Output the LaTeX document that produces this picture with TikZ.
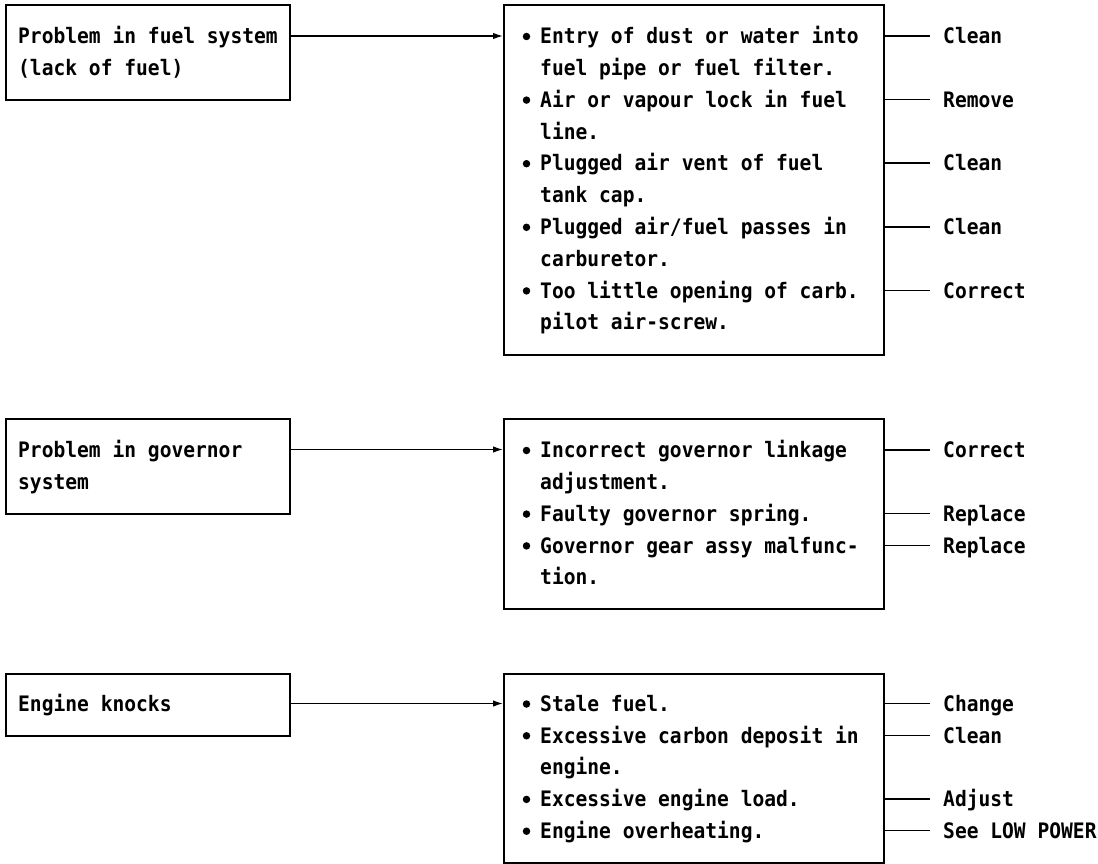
\documentclass[tikz,border=0pt]{standalone}
\usepackage{fontspec}
\newfontfamily\mono{DejaVu Sans Mono}[FakeStretch=0.92]
\usetikzlibrary{arrows.meta}
\begin{document}
\begin{tikzpicture}[x=1pt,y=-1pt,
  boxst/.style={draw, line width=1.8pt, inner sep=0pt, anchor=north west},
  txt/.style={font=\mono\bfseries\fontsize{21.3pt}{31.8pt}\selectfont, anchor=west, inner sep=0pt, text height=15.5pt, text depth=0pt},
  lab/.style={txt},
  bulst/.style={circle, fill, inner sep=0pt, minimum size=7.5pt},
  link/.style={line width=1.4pt},
  arr/.style={line width=1.4pt, -{Latex[length=10pt,width=6.5pt]}}]
\useasboundingbox (0,0) rectangle (1098,864);

% ---------- Section 1 ----------
\node[boxst, minimum width=284pt, minimum height=95pt] (b1) at (5,4) {};
\node[boxst, minimum width=380pt, minimum height=350pt] (b2) at (503,4) {};
\node[txt] (p1) at (18,36) {Problem in fuel system};
\node[txt] (p1b) at (18,67.8) {(lack of fuel)};

\node[txt] (i1a) at (540,36) {Entry of dust or water into};
\node[txt] (i1b) at (540,67.8) {fuel pipe or fuel filter.};
\node[txt] (i2a) at (540,99.6) {Air or vapour lock in fuel};
\node[txt] (i2b) at (540,131.4) {line.};
\node[txt] (i3a) at (540,163.2) {Plugged air vent of fuel};
\node[txt] (i3b) at (540,195) {tank cap.};
\node[txt] (i4a) at (540,226.8) {Plugged air/fuel passes in};
\node[txt] (i4b) at (540,258.6) {carburetor.};
\node[txt] (i5a) at (540,290.4) {Too little opening of carb.};
\node[txt] (i5b) at (540,322.2) {pilot air-screw.};
\foreach \i in {i1a,i2a,i3a,i4a,i5a}
  \node[bulst] (\i-bul) at ([xshift=-13.5pt,yshift=-0.5pt]\i.west) {};

\node[lab] (r1) at (943,36) {Clean};
\node[lab] (r2) at (943,99.6) {Remove};
\node[lab] (r3) at (943,163.2) {Clean};
\node[lab] (r4) at (943,226.8) {Clean};
\node[lab] (r5) at (943,290.4) {Correct};

\draw[arr] (b1.east |- p1) -- (b2.west |- p1);
\foreach \r in {r1,r2,r3,r4,r5}
  \draw[link] (b2.east |- \r) -- ([xshift=-13pt]\r.west);

% ---------- Section 2 ----------
\node[boxst, minimum width=284pt, minimum height=95pt] (b3) at (5,418) {};
\node[boxst, minimum width=380pt, minimum height=190pt] (b4) at (503,418) {};
\node[txt] (p2) at (18,449.5) {Problem in governor};
\node[txt] (p2b) at (18,481.3) {system};

\node[txt] (j1a) at (540,450) {Incorrect governor linkage};
\node[txt] (j1b) at (540,481.8) {adjustment.};
\node[txt] (j2a) at (540,513.6) {Faulty governor spring.};
\node[txt] (j3a) at (540,545.4) {Governor gear assy malfunc-};
\node[txt] (j3b) at (540,577.2) {tion.};
\foreach \i in {j1a,j2a,j3a}
  \node[bulst] (\i-bul) at ([xshift=-13.5pt,yshift=-0.5pt]\i.west) {};

\node[lab] (s1) at (943,450) {Correct};
\node[lab] (s2) at (943,513.6) {Replace};
\node[lab] (s3) at (943,545.4) {Replace};

\draw[arr] (b3.east |- p2) -- (b4.west |- p2);
\foreach \r in {s1,s2,s3}
  \draw[link] (b4.east |- \r) -- ([xshift=-13pt]\r.west);

% ---------- Section 3 ----------
\node[boxst, minimum width=284pt, minimum height=62pt] (b5) at (5,673) {};
\node[boxst, minimum width=380pt, minimum height=189pt] (b6) at (503,673) {};
\node[txt] (p3) at (18,703.5) {Engine knocks};

\node[txt] (k1a) at (540,703.5) {Stale fuel.};
\node[txt] (k2a) at (540,735.3) {Excessive carbon deposit in};
\node[txt] (k2b) at (540,767.1) {engine.};
\node[txt] (k3a) at (540,798.9) {Excessive engine load.};
\node[txt] (k4a) at (540,830.7) {Engine overheating.};
\foreach \i in {k1a,k2a,k3a,k4a}
  \node[bulst] (\i-bul) at ([xshift=-13.5pt,yshift=-0.5pt]\i.west) {};

\node[lab] (t1) at (943,703.5) {Change};
\node[lab] (t2) at (943,735.3) {Clean};
\node[lab] (t3) at (943,798.9) {Adjust};
\node[lab] (t4) at (943,830.7) {See LOW POWER};

\draw[arr] (b5.east |- p3) -- (b6.west |- p3);
\foreach \r in {t1,t2,t3,t4}
  \draw[link] (b6.east |- \r) -- ([xshift=-13pt]\r.west);
\end{tikzpicture}
\end{document}
